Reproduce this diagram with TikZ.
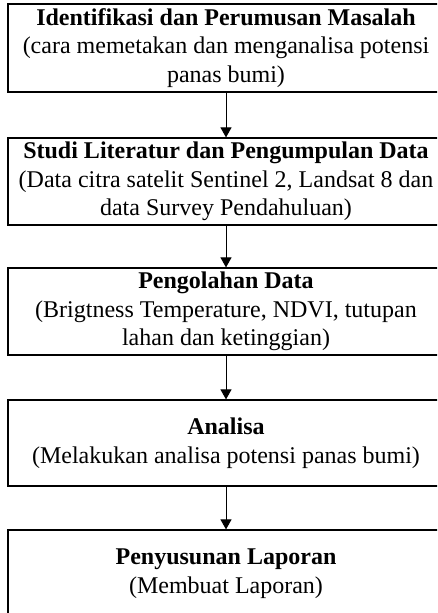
\documentclass[tikz,border=0pt]{standalone}
\usepackage{fontspec}
\setmainfont{Liberation Serif}
\usepackage{tikz}
\usetikzlibrary{arrows.meta}

\tikzset{
  stepbox/.style={draw, line width=1.2pt, rectangle, minimum width=436pt, minimum height=87pt,
    align=center, inner sep=0pt, font=\fontsize{24}{28.5}\selectfont},
  flow/.style={line width=1pt, -{Triangle[width=11pt,length=10pt]}}
}

\begin{document}
\begin{tikzpicture}[x=1pt,y=1pt]
\clip (0,0) rectangle (437,-613);
\node [stepbox, minimum height=88pt] (ident) at (226,-48) {\textbf{Identifikasi dan Perumusan Masalah}\\(cara memetakan dan menganalisa potensi\\panas bumi)};
\node [stepbox] (studi) at (226,-181.5) {\textbf{Studi Literatur dan Pengumpulan Data}\\(Data citra satelit Sentinel 2, Landsat 8 dan\\data Survey Pendahuluan)};
\node [stepbox] (olah) at (226,-311.5) {\textbf{Pengolahan Data}\\(Brigtness Temperature, NDVI, tutupan\\lahan dan ketinggian)};
\node [stepbox, minimum height=86pt] (analisa) at (226,-443) {\textbf{Analisa}\\(Melakukan analisa potensi panas bumi)};
\node [stepbox] (lapor) at (226,-573.5) {\textbf{Penyusunan Laporan}\\(Membuat Laporan)};
\draw [flow] (ident) -- (studi);
\draw [flow] (studi) -- (olah);
\draw [flow] (olah) -- (analisa);
\draw [flow] (analisa) -- (lapor);
\end{tikzpicture}
\end{document}
